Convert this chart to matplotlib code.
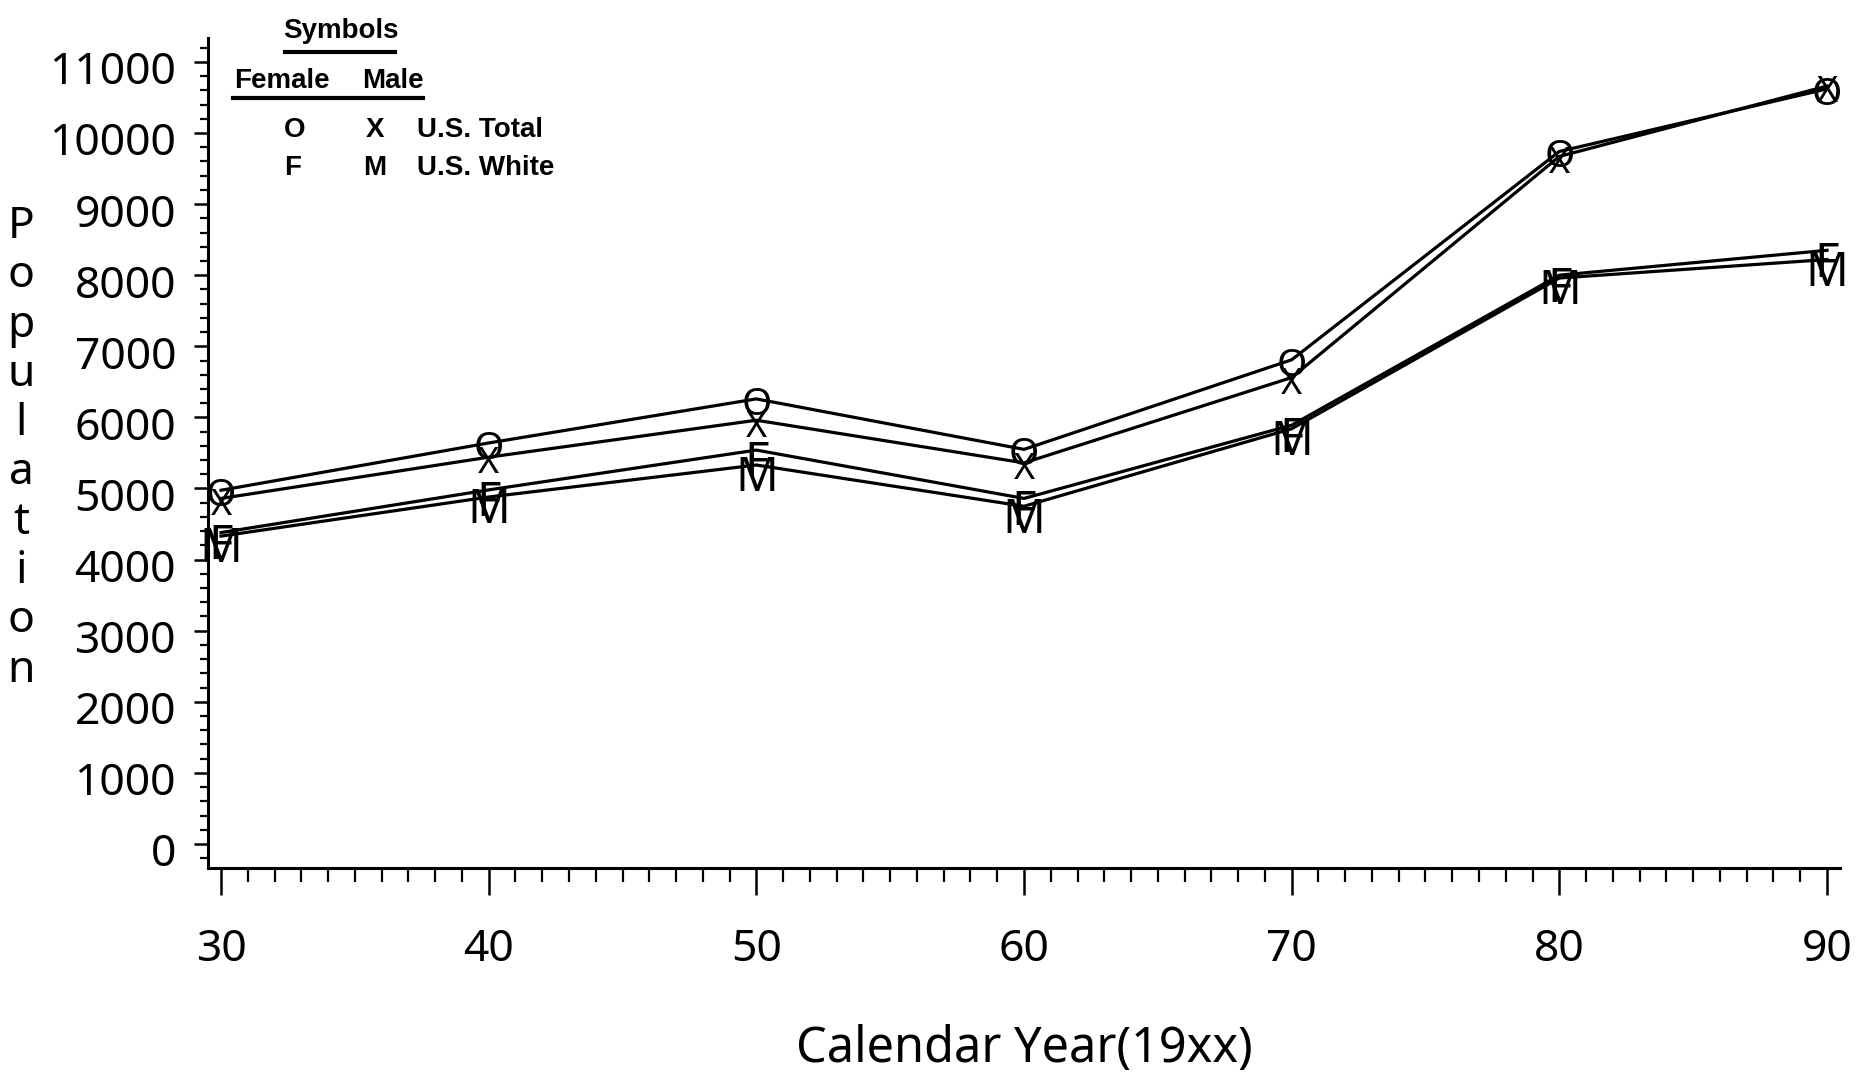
import matplotlib
matplotlib.use("Agg")
import matplotlib.pyplot as plt
from matplotlib.lines import Line2D
from matplotlib.ticker import MultipleLocator
from matplotlib.transforms import ScaledTranslation, offset_copy

plt.rcParams["font.family"] = ["Noto Sans", "DejaVu Sans"]

# population by calendar year (19xx)
years = [30, 40, 50, 60, 70, 80, 90]
female_total = [4975, 5640, 6260, 5550, 6810, 9740, 10620]
male_total = [4860, 5440, 5960, 5360, 6560, 9670, 10660]
female_white = [4380, 4980, 5540, 4860, 5890, 8000, 8350]
male_white = [4330, 4880, 5330, 4750, 5840, 7960, 8220]

series = [
    (female_total, "O", 28, -1),
    (male_total, "X", 26, -2),
    (female_white, "F", 34, -6),
    (male_white, "M", 34, -6),
]

W, H = 1858, 1078
fig = plt.figure(figsize=(W / 100, H / 100), dpi=100)


def fx(px):
    return px / W


def fy(py):
    return 1 - py / H


ax = fig.add_axes([fx(208), fy(868), fx(1840) - fx(208), fy(38) - fy(868)])

for vals, sym, size, dy in series:
    ax.plot(years, vals, color="black", lw=2.3, zorder=2)
    tr = offset_copy(ax.transData, fig=fig, x=0, y=dy, units="points")
    for x, v in zip(years, vals):
        ax.text(x, v, sym, transform=tr, fontsize=size, ha="center",
                va="center_baseline", color="black", zorder=3)

ax.set_xlim(29.514, 90.486)
ax.set_ylim(-338, 11336)
ax.set_xticks(range(30, 91, 10))
ax.set_yticks(range(0, 11001, 1000))
ax.xaxis.set_minor_locator(MultipleLocator(1))
ax.yaxis.set_minor_locator(MultipleLocator(200))

for side in ("top", "right"):
    ax.spines[side].set_visible(False)
for side in ("left", "bottom"):
    ax.spines[side].set_linewidth(2.2)

ax.tick_params(axis="x", which="major", direction="out", length=19.5, width=1.8,
               pad=24, labelsize=32)
ax.tick_params(axis="x", which="minor", direction="out", length=10, width=1.6)
ax.tick_params(axis="y", which="major", direction="out", length=10, width=1.8,
               pad=13, labelsize=32)
ax.tick_params(axis="y", which="minor", direction="out", length=5.5, width=1.6)

# y tick labels sit a little below their ticks
shift = ScaledTranslation(0, -0.06, fig.dpi_scale_trans)
for tick in ax.yaxis.get_major_ticks():
    tick.label1.set_transform(tick.label1.get_transform() + shift)

# axis titles
fig.text(fx(1024), fy(1062), "Calendar Year(19xx)", fontsize=35,
         ha="center", va="baseline")
fig.text(fx(21), fy(205), "\n".join("Population"), fontsize=32,
         ha="center", va="top", linespacing=1.16)

# symbol key in the upper left
bold = dict(fontsize=20, fontweight="bold", va="baseline",
            family=["Liberation Sans", "DejaVu Sans"])
fig.text(fx(341), fy(38), "Symbols", ha="center", **bold)
fig.text(fx(282), fy(88), "Female", ha="center", **bold)
fig.text(fx(393), fy(88), "Male", ha="center", **bold)
fig.text(fx(295), fy(137), "O", ha="center", **bold)
fig.text(fx(375), fy(137), "X", ha="center", **bold)
fig.text(fx(417), fy(137), "U.S. Total", ha="left", **bold)
fig.text(fx(293), fy(175), "F", ha="center", **bold)
fig.text(fx(375), fy(175), "M", ha="center", **bold)
fig.text(fx(417), fy(175), "U.S. White", ha="left", **bold)
fig.add_artist(Line2D([fx(285), fx(395)], [fy(52), fy(52)], color="black", lw=3))
fig.add_artist(Line2D([fx(233), fx(423)], [fy(98), fy(98)], color="black", lw=3))

fig.savefig("out.png", dpi=100)
